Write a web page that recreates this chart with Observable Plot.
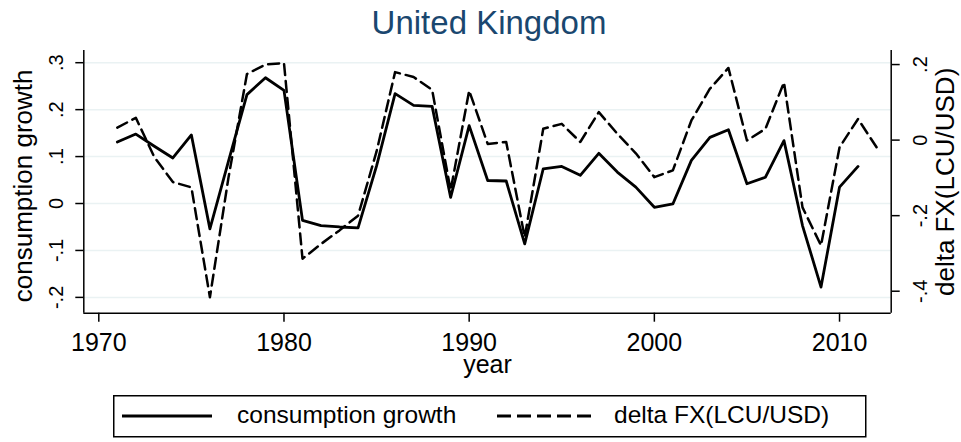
<!DOCTYPE html>
<html><head><meta charset="utf-8">
<script src="https://cdn.jsdelivr.net/npm/d3@7"></script>
<script src="https://cdn.jsdelivr.net/npm/@observablehq/plot@0.6"></script>
<style>
body{margin:0;background:#fff;font-family:Arial,"Liberation Sans",sans-serif;}
#wrap{position:relative;width:961px;height:442px;overflow:hidden;background:#fff}
#title{position:absolute;left:0;top:0;width:961px;height:45px;line-height:45px;text-align:center;font-size:33px;color:#1a476f;padding-left:17px;box-sizing:border-box}
#chart{position:absolute;left:0;top:45px}
#legend{position:absolute;left:113px;top:395px}
</style></head><body>
<div id="wrap"><div id="title"></div><div id="chart"></div><div id="legend"></div></div>
<script>
const chartTitle = "United Kingdom";
const xLabel = "year";
const yLabel = "consumption growth";
const y2Label = "delta FX(LCU/USD)";
const seriesNames = ["consumption growth", "delta FX(LCU/USD)"];

const xTicks = [1970, 1980, 1990, 2000, 2010];
const leftTicks = [-0.2, -0.1, 0, 0.1, 0.2, 0.3];
const rightTicks = [-0.4, -0.2, 0, 0.2];

const consYears = [1971,1972,1973,1974,1975,1976,1977,1978,1979,1980,
  1981,1982,1983,1984,1985,1986,1987,1988,1989,1990,
  1991,1992,1993,1994,1995,1996,1997,1998,1999,2000,
  2001,2002,2003,2004,2005,2006,2007,2008,2009,2010,2011];
const consumption = [0.131,0.148,0.122,0.097,0.146,-0.054,0.090,0.232,0.268,0.241,
  -0.036,-0.047,-0.050,-0.052,0.080,0.234,0.209,0.207,0.013,0.166,
  0.049,0.048,-0.086,0.074,0.079,0.060,0.107,0.067,0.035,-0.008,
  -0.001,0.092,0.141,0.157,0.042,0.056,0.134,-0.047,-0.178,0.035,0.079];

const fxYears = [1971,1972,1973,1974,1975,1976,1977,1978,1979,1980,
  1981,1982,1983,1984,1985,1986,1987,1988,1989,1990,
  1991,1992,1993,1994,1995,1996,1997,1998,1999,2000,
  2001,2002,2003,2004,2005,2006,2007,2008,2009,2010,2011,2012];
const deltaFX = [0.033,0.059,-0.045,-0.111,-0.125,-0.416,-0.100,0.175,0.200,0.204,
  -0.314,-0.275,-0.239,-0.200,-0.030,0.180,0.167,0.133,-0.133,0.131,
  -0.010,-0.005,-0.257,0.030,0.043,-0.005,0.074,0.017,-0.035,-0.098,
  -0.080,0.052,0.136,0.191,-0.001,0.030,0.153,-0.178,-0.279,-0.019,0.056,-0.019];

const xDomain = [1969.19, 2012.79];
const yDomain = [-0.2337, 0.326];
const rDomain = [-0.4582, 0.2372];
const toLeft = d3.scaleLinear().domain(rDomain).range(yDomain);
const fmt = d => Math.abs(d) < 1e-9 ? "0" : d.toFixed(1).replace(/^(-?)0\./, "$1.");

const consData = consYears.map((y, i) => ({year: y, v: consumption[i]}));
const fxData = fxYears.map((y, i) => ({year: y, v: toLeft(deltaFX[i])}));

document.getElementById("title").textContent = chartTitle;

const plot = Plot.plot({
  width: 961, height: 340,
  marginTop: 5, marginBottom: 72.3, marginLeft: 83.3, marginRight: 70.3,
  style: {fontFamily: "Arial, 'Liberation Sans', sans-serif", color: "#000", background: "#fff", overflow: "visible"},
  x: {domain: xDomain},
  y: {domain: yDomain},
  marks: [
    Plot.gridY(leftTicks, {stroke: "#eaf2f3", strokeOpacity: 1, strokeWidth: 1.5}),
    Plot.ruleY([yDomain[0]], {stroke: "#000", strokeWidth: 1.5}),
    Plot.ruleX([xDomain[0], xDomain[1]], {stroke: "#000", strokeWidth: 1.5}),
    Plot.axisX(xTicks, {tickSize: 9, tickPadding: 11, fontSize: 25, strokeWidth: 1.5, tickFormat: d => String(d), label: null}),
    Plot.axisY(leftTicks, {anchor: "left", tickSize: 8, tickRotate: -90, tickPadding: 13, fontSize: 20, strokeWidth: 1.5, tickFormat: fmt, label: null}),
    Plot.axisY(rightTicks.map(toLeft), {anchor: "right", tickSize: 8, tickRotate: -90, lineAnchor: "top", tickPadding: 14, fontSize: 20, strokeWidth: 1.5,
      tickFormat: d => fmt(+toLeft.invert(d).toFixed(1)), label: null}),
    Plot.lineY(fxData, {x: "year", y: "v", stroke: "#000", strokeWidth: 2.5, strokeDasharray: "11,6"}),
    Plot.lineY(consData, {x: "year", y: "v", stroke: "#000", strokeWidth: 2.8}),
    Plot.text([xLabel], {text: d => d, frameAnchor: "bottom", dy: 42, lineAnchor: "top", fontSize: 25}),
    Plot.text([yLabel], {text: d => d, frameAnchor: "left", textAnchor: "middle", dx: -60, dy: 4, rotate: -90, fontSize: 26, letterSpacing: 0.8}),
    Plot.text([y2Label], {text: d => d, frameAnchor: "right", textAnchor: "middle", dx: 54, rotate: -90, fontSize: 26, letterSpacing: 0.8})
  ]
});
document.getElementById("chart").appendChild(plot);

document.getElementById("legend").innerHTML =
  `<svg width="754" height="43" style="display:block;font-family:Arial,'Liberation Sans',sans-serif">
    <rect x="0.75" y="0.75" width="752" height="41" fill="#fff" stroke="#000" stroke-width="1.5"/>
    <line x1="9" x2="99" y1="21" y2="21" stroke="#000" stroke-width="3"/>
    <text x="124" y="28" font-size="24.5">${seriesNames[0]}</text>
    <line x1="384" x2="484" y1="21" y2="21" stroke="#000" stroke-width="3" stroke-dasharray="14,6"/>
    <text x="501" y="28" font-size="24.5">${seriesNames[1]}</text>
  </svg>`;
</script>
</body></html>
